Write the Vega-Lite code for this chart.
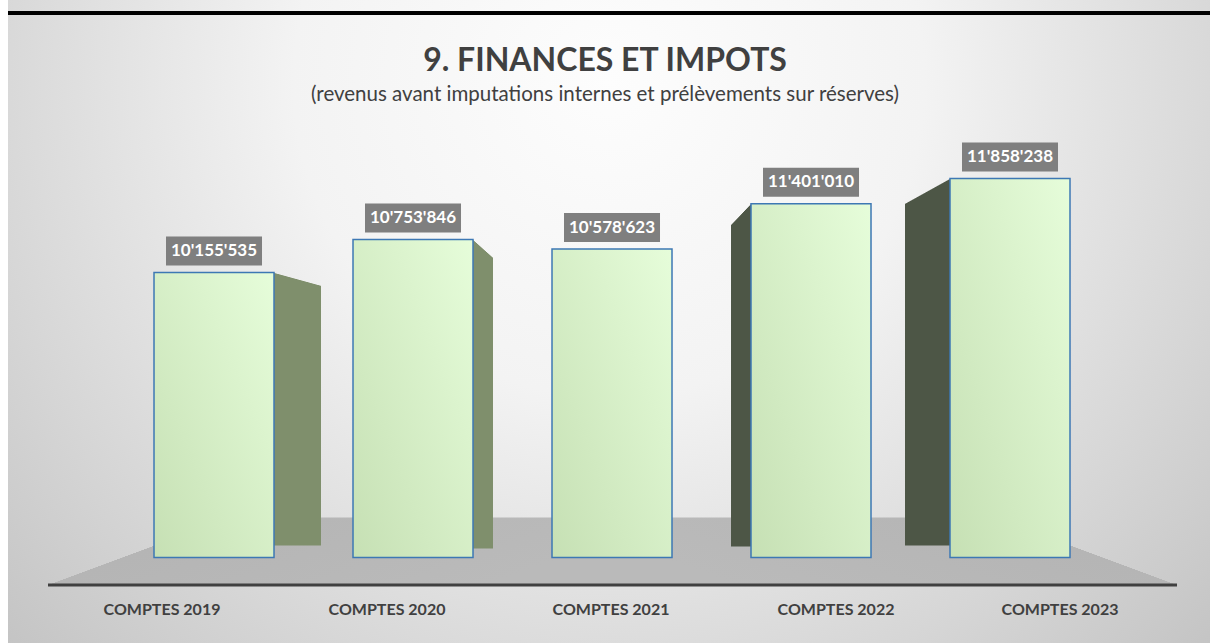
{
  "$schema": "https://vega.github.io/schema/vega-lite/v6.json",
  "width": 1210,
  "height": 643,
  "padding": 0,
  "autosize": {"type": "none"},
  "background": "white",
  "config": {"view": {"stroke": null}},
  "title": {
    "text": "9. FINANCES ET IMPOTS",
    "subtitle": "(revenus avant imputations internes et prélèvements sur réserves)",
    "anchor": "middle",
    "frame": "group",
    "offset": -106,
    "font": "Lato",
    "fontSize": 32,
    "fontWeight": "bold",
    "color": "#404040",
    "subtitleFont": "Lato",
    "subtitleFontSize": 20.5,
    "subtitleColor": "#404040",
    "subtitlePadding": 7
  },
  "data": {
    "values": [
      {"compte": "COMPTES 2019", "year": 2019, "value": 10155535},
      {"compte": "COMPTES 2020", "year": 2020, "value": 10753846},
      {"compte": "COMPTES 2021", "year": 2021, "value": 10578623},
      {"compte": "COMPTES 2022", "year": 2022, "value": 11401010},
      {"compte": "COMPTES 2023", "year": 2023, "value": 11858238}
    ]
  },
  "encoding": {
    "x": {"field": "year", "type": "quantitative", "scale": {"domain": [2017.9246, 2024.005], "nice": false, "zero": false, "padding": 0}, "axis": null},
    "y": {"field": "value", "type": "quantitative", "scale": {"domain": [3451000, 15086000], "nice": false, "zero": false, "padding": 0}, "axis": null}
  },
  "layer": [
    {
      "transform": [{"filter": "datum.year === 2021"}],
      "mark": {
        "type": "rect",
        "fill": {
          "gradient": "radial",
          "x1": 0.5, "y1": 0.3, "r1": 0,
          "x2": 0.5, "y2": 0.3, "r2": 0.75,
          "stops": [
            {"offset": 0, "color": "#fdfdfd"},
            {"offset": 0.35, "color": "#f3f3f3"},
            {"offset": 0.7, "color": "#d6d6d6"},
            {"offset": 1, "color": "#bdbdbd"}
          ]
        }
      },
      "encoding": {
        "x": {"datum": 2017.9648, "type": "quantitative"},
        "x2": {"datum": 2024.005},
        "y": {"datum": 15086000, "type": "quantitative"},
        "y2": {"datum": 3451000}
      }
    },
    {
      "transform": [{"filter": "datum.year === 2021"}],
      "mark": {
        "type": "rect",
        "fill": {
          "gradient": "linear", "x1": 0, "y1": 0, "x2": 1, "y2": 0.3218,
          "stops": [
            {"offset": 0, "color": "rgba(183,183,183,0)"},
            {"offset": 0.2912, "color": "rgba(183,183,183,0)"},
            {"offset": 0.2924, "color": "#b5b5b5"},
            {"offset": 1, "color": "#bababa"}
          ]
        }
      },
      "encoding": {
        "x": {"datum": 2018.1658, "type": "quantitative"},
        "x2": {"datum": 2021.0075},
        "y": {"datum": 5720000, "type": "quantitative"},
        "y2": {"datum": 4500000}
      }
    },
    {
      "transform": [{"filter": "datum.year === 2021"}],
      "mark": {
        "type": "rect",
        "fill": {
          "gradient": "linear", "x1": 1, "y1": 0, "x2": 0, "y2": 0.3218,
          "stops": [
            {"offset": 0, "color": "rgba(183,183,183,0)"},
            {"offset": 0.2912, "color": "rgba(183,183,183,0)"},
            {"offset": 0.2924, "color": "#b5b5b5"},
            {"offset": 1, "color": "#bababa"}
          ]
        }
      },
      "encoding": {
        "x": {"datum": 2020.9975, "type": "quantitative"},
        "x2": {"datum": 2023.8392},
        "y": {"datum": 5720000, "type": "quantitative"},
        "y2": {"datum": 4500000}
      }
    },
    {
      "transform": [{"filter": "datum.year === 2021"}],
      "mark": {"type": "rule", "color": "#404040", "strokeWidth": 3},
      "encoding": {
        "x": {"datum": 2018.1658, "type": "quantitative"},
        "x2": {"datum": 2023.8392},
        "y": {"datum": 4500000, "type": "quantitative"}
      }
    },
    {
      "transform": [{"filter": "datum.year === 2021"}],
      "mark": {"type": "rule", "color": "#000000", "strokeWidth": 4},
      "encoding": {
        "x": {"datum": 2017.9648, "type": "quantitative"},
        "x2": {"datum": 2024.005},
        "y": {"datum": 14851000, "type": "quantitative"}
      }
    },
    {
      "transform": [{"filter": "datum.year === 2019"}],
      "mark": {
        "type": "bar", "width": 47, "xOffset": 83.5, "y2Offset": -12,
        "fill": {
          "gradient": "linear", "x1": 0, "y1": 0, "x2": -0.0474, "y2": 1,
          "stops": [
            {"offset": 0, "color": "rgba(127,143,108,0)"},
            {"offset": 0.003, "color": "#7f8f6c"},
            {"offset": 1, "color": "#7f8f6c"}
          ]
        }
      },
      "encoding": {"y2": {"datum": 5000000}}
    },
    {
      "transform": [{"filter": "datum.year === 2020"}],
      "mark": {
        "type": "bar", "width": 20, "xOffset": 70, "y2Offset": -9,
        "fill": {
          "gradient": "linear", "x1": 0, "y1": 0, "x2": -0.058, "y2": 1,
          "stops": [
            {"offset": 0, "color": "rgba(127,143,108,0)"},
            {"offset": 0.003, "color": "#7f8f6c"},
            {"offset": 1, "color": "#7f8f6c"}
          ]
        }
      },
      "encoding": {"y2": {"datum": 5000000}}
    },
    {
      "transform": [{"filter": "datum.year === 2022"}],
      "mark": {
        "type": "bar", "width": 20, "xOffset": -70, "y2Offset": -11,
        "fill": {
          "gradient": "linear", "x1": 1, "y1": 0, "x2": 1.061, "y2": 1,
          "stops": [
            {"offset": 0, "color": "rgba(77,86,70,0)"},
            {"offset": 0.003, "color": "#4d5646"},
            {"offset": 1, "color": "#4d5646"}
          ]
        }
      },
      "encoding": {"y2": {"datum": 5000000}}
    },
    {
      "transform": [{"filter": "datum.year === 2023"}],
      "mark": {
        "type": "bar", "width": 45, "xOffset": -82.5, "y2Offset": -12,
        "fill": {
          "gradient": "linear", "x1": 1, "y1": 0, "x2": 1.068, "y2": 1,
          "stops": [
            {"offset": 0, "color": "rgba(77,86,70,0)"},
            {"offset": 0.003, "color": "#4d5646"},
            {"offset": 1, "color": "#4d5646"}
          ]
        }
      },
      "encoding": {"y2": {"datum": 5000000}}
    },
    {
      "mark": {
        "type": "bar",
        "width": 120,
        "stroke": "#3d78b4",
        "strokeWidth": 1.5,
        "fill": {
          "gradient": "linear", "x1": 0, "y1": 1, "x2": 1, "y2": 0,
          "stops": [
            {"offset": 0, "color": "#c6e0b4"},
            {"offset": 1, "color": "#e6fdda"}
          ]
        }
      },
      "encoding": {"y2": {"datum": 5000000}}
    },
    {
      "mark": {"type": "bar", "color": "#7f7f7f", "width": 96, "yOffset": -36, "y2Offset": -7},
      "encoding": {"y2": {"field": "value"}}
    },
    {
      "transform": [{"calculate": "replace(replace(format(datum.value, ','), ',', \"'\"), ',', \"'\")", "as": "label"}],
      "mark": {"type": "text", "font": "Lato", "fontWeight": "bold", "fontSize": 17, "color": "#ffffff", "baseline": "middle", "align": "center", "dy": -21.5},
      "encoding": {"text": {"field": "label", "type": "nominal"}}
    },
    {
      "transform": [{"filter": "datum.year === 2019"}],
      "mark": {"type": "text", "font": "Lato", "fontWeight": "bold", "fontSize": 16, "color": "#404040", "baseline": "middle", "align": "center", "dx": -52, "dy": 25},
      "encoding": {"y": {"datum": 4500000, "type": "quantitative"}, "text": {"field": "compte", "type": "nominal"}}
    },
    {
      "transform": [{"filter": "datum.year === 2020"}],
      "mark": {"type": "text", "font": "Lato", "fontWeight": "bold", "fontSize": 16, "color": "#404040", "baseline": "middle", "align": "center", "dx": -26, "dy": 25},
      "encoding": {"y": {"datum": 4500000, "type": "quantitative"}, "text": {"field": "compte", "type": "nominal"}}
    },
    {
      "transform": [{"filter": "datum.year === 2021"}],
      "mark": {"type": "text", "font": "Lato", "fontWeight": "bold", "fontSize": 16, "color": "#404040", "baseline": "middle", "align": "center", "dx": -1, "dy": 25},
      "encoding": {"y": {"datum": 4500000, "type": "quantitative"}, "text": {"field": "compte", "type": "nominal"}}
    },
    {
      "transform": [{"filter": "datum.year === 2022"}],
      "mark": {"type": "text", "font": "Lato", "fontWeight": "bold", "fontSize": 16, "color": "#404040", "baseline": "middle", "align": "center", "dx": 25, "dy": 25},
      "encoding": {"y": {"datum": 4500000, "type": "quantitative"}, "text": {"field": "compte", "type": "nominal"}}
    },
    {
      "transform": [{"filter": "datum.year === 2023"}],
      "mark": {"type": "text", "font": "Lato", "fontWeight": "bold", "fontSize": 16, "color": "#404040", "baseline": "middle", "align": "center", "dx": 50, "dy": 25},
      "encoding": {"y": {"datum": 4500000, "type": "quantitative"}, "text": {"field": "compte", "type": "nominal"}}
    }
  ]
}
